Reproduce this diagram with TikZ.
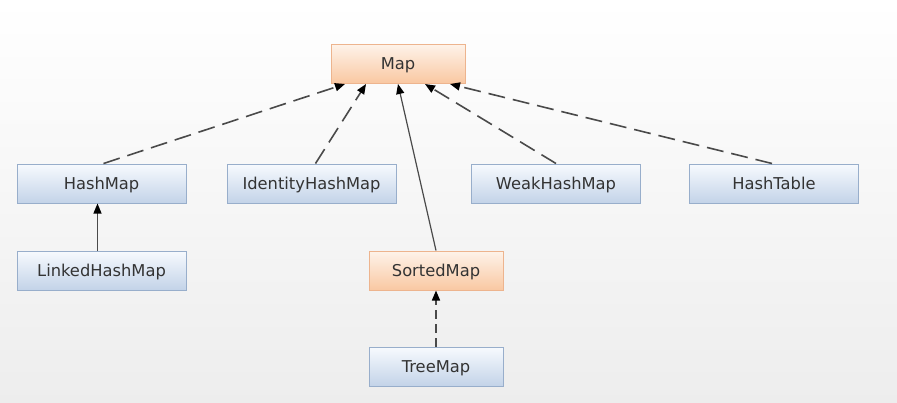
\documentclass[tikz,border=0pt]{standalone}
\usepackage{fontspec}
\setmainfont{DejaVu Sans}
\usetikzlibrary{arrows.meta}
\definecolor{bluetop}{HTML}{F7FAFE}
\definecolor{bluebot}{HTML}{C3D3E8}
\definecolor{blueline}{HTML}{98AECB}
\definecolor{orangetop}{HTML}{FEF3EA}
\definecolor{orangebot}{HTML}{F9C8A2}
\definecolor{orangeline}{HTML}{EDB48E}
\definecolor{txt}{HTML}{333333}
\definecolor{ln}{HTML}{4A4A4A}
\tikzset{
  box/.style={draw=blueline, line width=1pt, top color=bluetop, bottom color=bluebot,
    minimum width=169pt, minimum height=39pt, inner sep=0pt, text=txt,
    text depth=0pt, text height=11pt,
    font=\fontsize{16.3}{18}\selectfont},
  obox/.style={box, draw=orangeline, top color=orangetop, bottom color=orangebot, minimum width=134pt},
  sbox/.style={box, minimum width=134pt},
  tip/.style={-{Triangle[length=10pt,width=8pt,fill=black,color=black]}},
  impl/.style={draw=ln, line width=1.6pt, dash pattern=on 17pt off 8pt, tip},
  shortimpl/.style={impl, dash pattern=on 9pt off 5pt},
  ext/.style={draw=ln, line width=1.2pt, tip},
}
\begin{document}
\begin{tikzpicture}[x=1pt,y=-1pt]
  \shade[top color=white, bottom color=black!7] (0,0) rectangle (897,402);
  \useasboundingbox (0,0) rectangle (897,402);
  \node[obox] (map) at (398,63.5) {Map};
  \node[box] (hm) at (101.5,183.5) {HashMap};
  \node[box] (ihm) at (311.5,183.5) {IdentityHashMap};
  \node[box] (whm) at (556,183.5) {WeakHashMap};
  \node[box] (ht) at (774,183.5) {HashTable};
  \node[box] (lhm) at (101.5,270.5) {LinkedHashMap};
  \node[obox] (sm) at (436,270.5) {SortedMap};
  \node[sbox] (tm) at (436,366.5) {TreeMap};
  \coordinate (m1) at (345,84);
  \coordinate (m2) at (366,84);
  \coordinate (m3) at (398,84);
  \coordinate (m4) at (425,84);
  \coordinate (m5) at (450,84);
  \draw[impl] (hm.north) ++(2,0) -- (m1);
  \draw[impl] (ihm.north) ++(4,0) -- (m2);
  \draw[ext] (sm.north) -- (m3);
  \draw[impl] (whm.north) -- (m4);
  \draw[impl] (ht.north) ++(-2,0) -- (m5);
  \draw[ext] (lhm.north) ++(-4,0) -- ([xshift=-4pt]hm.south);
  \draw[shortimpl] (tm.north) -- (sm.south);
\end{tikzpicture}
\end{document}
